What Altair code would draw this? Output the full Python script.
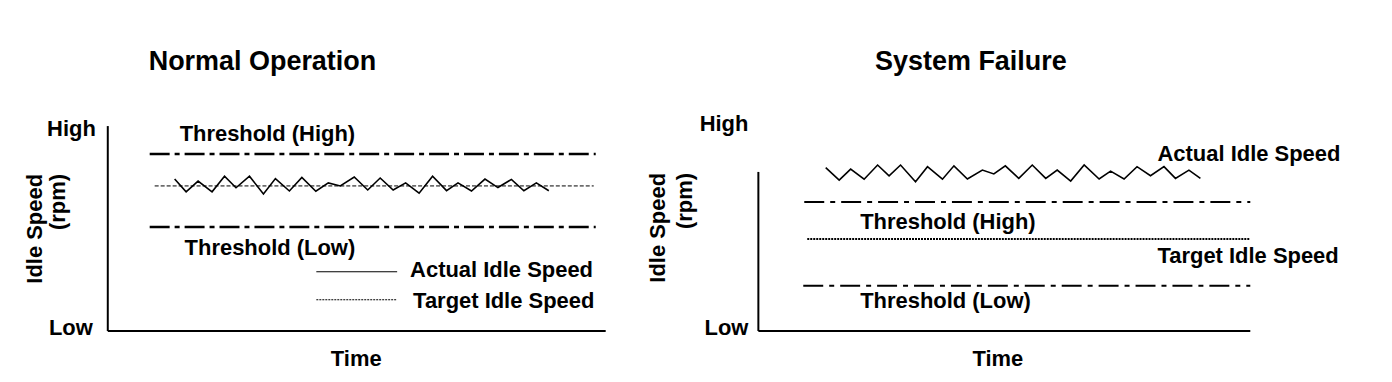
import altair as alt
import pandas as pd

FONT = "Liberation Sans"

# ---------------- Panel 1: Normal Operation ----------------
# time units (0 = y-axis), level units (0 = "Low", 100 = "High")
n_zig_time = [13.4, 15.7, 18.1, 20.9, 23.4, 25.7, 28.4, 31.2, 33.6, 36.4,
              38.9, 41.7, 44.2, 46.6, 49.4, 52.1, 54.6, 57.2, 59.7, 62.4,
              65.1, 67.9, 70.2, 72.9, 75.6, 78.2, 80.9, 83.4, 85.9, 88.4]
n_zig_level = [74.9, 68.6, 73.9, 68.6, 76.3, 70.6, 76.3, 67.5, 75.1, 69.0,
               75.7, 68.9, 73.0, 71.5, 75.9, 69.5, 75.4, 69.5, 73.0, 67.9,
               76.3, 69.2, 73.0, 69.0, 74.9, 70.7, 74.7, 69.1, 73.0, 69.1]
n_thr_levels = [87.2, 51.3]
n_thr_start = [8.4, 8.4]
n_thr_end = [97.8, 97.8]
n_target_level = [71.5]
n_target_start = [9.4]
n_target_end = [97.4]
n_leg_levels = [29.2, 15.4]
n_leg_start = [41.8, 41.8]
n_leg_end = [58.0, 58.0]
n_axis_top = 101.0
n_axis_right = 99.8

n_left_labels = ["Threshold (High)", "Threshold (Low)", "Actual Idle Speed", "Target Idle Speed"]
n_left_time = [14.4, 15.4, 60.6, 61.2]
n_left_level = [97.0, 41.0, 30.1, 14.9]
n_tick_labels = ["High", "Low"]
n_tick_time = [-2.4, -3.0]
n_tick_level = [99.5, 1.6]
n_ytitle = ["Idle Speed", "(rpm)"]
n_ytitle_time = [-14.5, -10.0]
n_ytitle_level = [77.4, 77.4]
n_center_labels = ["Normal Operation", "Time"]
n_center_time = [31.0, 49.8]
n_center_level = [132.4, -13.6]
n_center_size = [27, 22]

# ---------------- Panel 2: System Failure ----------------
s_zig_time = [13.5, 16.2, 18.5, 21.2, 23.9, 26.2, 28.5, 31.5, 33.9, 36.9,
              39.2, 41.9, 44.9, 47.2, 49.5, 52.2, 54.9, 57.6, 59.9, 62.6,
              65.3, 68.3, 70.6, 73.3, 75.9, 78.6, 81.3, 83.6, 86.3, 88.6]
s_zig_level = [80.5, 74.4, 79.8, 74.8, 81.8, 76.5, 81.8, 73.6, 81.0, 74.8,
               81.4, 74.9, 79.3, 77.4, 81.4, 75.2, 81.8, 75.2, 79.3, 73.9,
               81.8, 74.9, 78.8, 74.9, 81.0, 76.5, 81.0, 75.2, 79.3, 75.2]
s_thr_levels = [63.6, 22.3]
s_thr_start = [9.2, 9.0]
s_thr_end = [98.6, 98.6]
s_target_level = [45.4]
s_target_start = [9.8]
s_target_end = [98.6]
s_axis_top = 78.4
s_axis_right = 98.6

s_left_labels = ["Actual Idle Speed", "Threshold (High)", "Target Idle Speed", "Threshold (Low)"]
s_left_time = [80.0, 20.4, 80.0, 20.4]
s_left_level = [87.2, 53.8, 37.0, 14.9]
s_tick_labels = ["High", "Low"]
s_tick_time = [-2.0, -2.0]
s_tick_level = [102.0, 1.6]
s_ytitle = ["Idle Speed", "(rpm)"]
s_ytitle_time = [-20.2, -14.8]
s_ytitle_level = [77.9, 77.9]
s_center_labels = ["System Failure", "Time"]
s_center_time = [42.6, 48.0]
s_center_level = [132.4, -13.6]
s_center_size = [27, 22]

LEVEL_DOMAIN = [-21, 159]
HEIGHT = 366


def panel(xdom, width, zig_t, zig_l, thr_l, thr_s, thr_e, thr_dash, thr_w,
          tgt_l, tgt_s, tgt_e, tgt_dash, tgt_w, axis_top, axis_right,
          left_labels, left_t, left_l, tick_labels, tick_t, tick_l,
          yt_labels, yt_t, yt_l, c_labels, c_t, c_l, c_size,
          leg=None):
    xs = alt.Scale(domain=xdom, nice=False, zero=False)
    ys = alt.Scale(domain=LEVEL_DOMAIN, nice=False, zero=False)

    def X(f):
        return alt.X(f, type="quantitative", scale=xs, axis=None)

    def Y(f):
        return alt.Y(f, type="quantitative", scale=ys, axis=None)

    layers = []
    # axes lines
    axes = pd.DataFrame({"t0": [0, 0], "t1": [0, axis_right], "l0": [0, 0], "l1": [axis_top, 0]})
    layers.append(alt.Chart(axes).mark_rule(color="black", strokeWidth=2).encode(
        x=X("t0"), x2="t1", y=Y("l0"), y2="l1"))
    # thresholds
    thr = pd.DataFrame({"t0": thr_s, "t1": thr_e, "l": thr_l})
    layers.append(alt.Chart(thr).mark_rule(color="black", strokeWidth=thr_w, strokeDash=thr_dash).encode(
        x=X("t0"), x2="t1", y=Y("l")))
    # target
    tgt = pd.DataFrame({"t0": tgt_s, "t1": tgt_e, "l": tgt_l})
    layers.append(alt.Chart(tgt).mark_rule(color="black", strokeWidth=tgt_w, strokeDash=tgt_dash).encode(
        x=X("t0"), x2="t1", y=Y("l")))
    # actual zigzag
    zig = pd.DataFrame({"t": zig_t, "l": zig_l, "o": list(range(len(zig_t)))})
    layers.append(alt.Chart(zig).mark_line(color="black", strokeWidth=1.6, strokeJoin="miter").encode(
        x=X("t"), y=Y("l"), order="o:Q"))
    # legend lines
    if leg is not None:
        lv, ls, le = leg
        solid = pd.DataFrame({"t0": [ls[0]], "t1": [le[0]], "l": [lv[0]]})
        dotted = pd.DataFrame({"t0": [ls[1]], "t1": [le[1]], "l": [lv[1]]})
        layers.append(alt.Chart(solid).mark_rule(color="black", strokeWidth=1).encode(
            x=X("t0"), x2="t1", y=Y("l")))
        layers.append(alt.Chart(dotted).mark_rule(color="black", strokeWidth=1.2, strokeDash=[2, 1]).encode(
            x=X("t0"), x2="t1", y=Y("l")))
    # left aligned labels
    ll = pd.DataFrame({"txt": left_labels, "t": left_t, "l": left_l})
    layers.append(alt.Chart(ll).mark_text(align="left", baseline="middle", font=FONT, fontWeight="bold",
                                          fontSize=22, color="black").encode(
        x=X("t"), y=Y("l"), text="txt:N"))
    # High / Low
    tl = pd.DataFrame({"txt": tick_labels, "t": tick_t, "l": tick_l})
    layers.append(alt.Chart(tl).mark_text(align="right", baseline="middle", font=FONT, fontWeight="bold",
                                          fontSize=22, color="black").encode(
        x=X("t"), y=Y("l"), text="txt:N"))
    # y title
    yt = pd.DataFrame({"txt": yt_labels, "t": yt_t, "l": yt_l})
    layers.append(alt.Chart(yt).mark_text(align="right", baseline="middle", angle=270, font=FONT,
                                          fontWeight="bold", fontSize=22, color="black").encode(
        x=X("t"), y=Y("l"), text="txt:N"))
    # centered (title, Time)
    cl = pd.DataFrame({"txt": c_labels, "t": c_t, "l": c_l, "s": c_size})
    layers.append(alt.Chart(cl).mark_text(align="center", baseline="middle", font=FONT, fontWeight="bold",
                                          color="black").encode(
        x=X("t"), y=Y("l"), text="txt:N", size=alt.Size("s:Q", scale=None, legend=None)))
    return alt.layer(*layers).properties(width=width, height=HEIGHT)


left = panel([-20, 108], 640, n_zig_time, n_zig_level, n_thr_levels, n_thr_start, n_thr_end,
             [20, 5, 5, 5], 2.5, n_target_level, n_target_start, n_target_end, [4, 2], 1,
             n_axis_top, n_axis_right, n_left_labels, n_left_time, n_left_level,
             n_tick_labels, n_tick_time, n_tick_level, n_ytitle, n_ytitle_time, n_ytitle_level,
             n_center_labels, n_center_time, n_center_level, n_center_size,
             leg=(n_leg_levels, n_leg_start, n_leg_end))

right = panel([-21.8, 125.4], 736, s_zig_time, s_zig_level, s_thr_levels, s_thr_start, s_thr_end,
              [20, 6, 5, 6], 2, s_target_level, s_target_start, s_target_end, [2, 1], 2,
              s_axis_top, s_axis_right, s_left_labels, s_left_time, s_left_level,
              s_tick_labels, s_tick_time, s_tick_level, s_ytitle, s_ytitle_time, s_ytitle_level,
              s_center_labels, s_center_time, s_center_level, s_center_size)

chart = (
    alt.hconcat(left, right, spacing=0)
    .properties(padding=0, background="white")
    .configure_view(stroke="transparent", strokeWidth=0)
)

chart.save("out.html", embed_options={"renderer": "svg", "actions": False})
